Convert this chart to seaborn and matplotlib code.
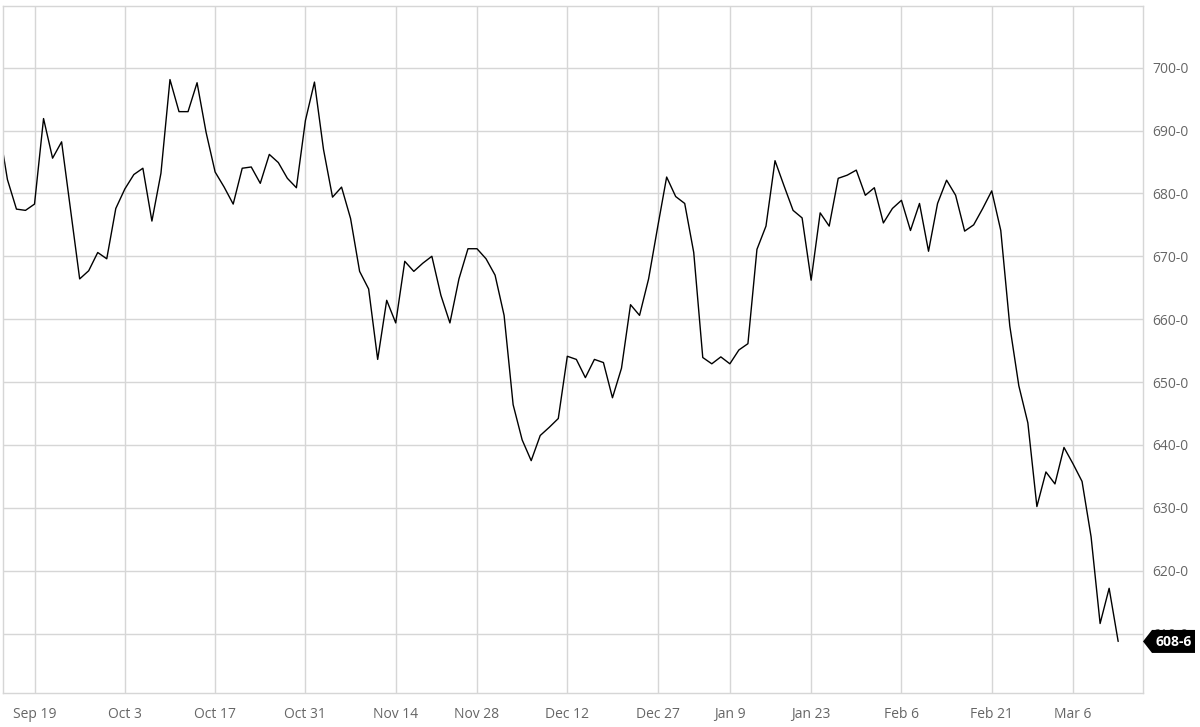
import pandas as pd
import matplotlib.pyplot as plt
import matplotlib.transforms as mtransforms
from matplotlib.patches import Polygon
import seaborn as sns

# trading days Sep 13 2022 .. Mar 13 2023 (CBOT holidays skipped)
start_date = "2022-09-13"
end_date = "2023-03-13"
holidays = ["2022-11-24", "2022-12-26", "2023-01-02", "2023-01-16", "2023-02-20"]

# settlement prices
prices = [
    691.0, 682.2, 677.5, 677.3, 678.3, 691.9, 685.6, 688.2, 677.3, 666.4,
    667.7, 670.6, 669.6, 677.6, 680.7, 683.0, 684.0, 675.6, 683.2, 698.1,
    693.0, 693.0, 697.6, 689.7, 683.4, 681.0, 678.3, 684.0, 684.2, 681.6,
    686.2, 684.9, 682.4, 680.9, 691.6, 697.7, 687.0, 679.4, 681.0, 676.0,
    667.6, 664.8, 653.6, 663.0, 659.4, 669.2, 667.6, 668.9, 670.0, 663.8,
    659.4, 666.4, 671.2, 671.2, 669.6, 667.0, 660.6, 646.4, 640.8, 637.5,
    641.5, 642.8, 644.2, 654.1, 653.6, 650.7, 653.6, 653.1, 647.5, 652.2,
    662.3, 660.6, 666.4, 674.6, 682.6, 679.5, 678.4, 670.6, 653.9, 652.9,
    654.0, 652.9, 655.1, 656.1, 671.1, 674.8, 685.2, 681.2, 677.3, 676.1,
    666.2, 676.9, 674.8, 682.4, 682.9, 683.7, 679.7, 680.9, 675.3, 677.6,
    678.9, 674.1, 678.4, 670.8, 678.4, 682.1, 679.7, 674.0, 675.0, 677.6,
    680.4, 674.1, 658.9, 649.4, 643.5, 630.2, 635.7, 633.8, 639.6, 637.0,
    634.2, 625.4, 611.6, 617.2, 608.75,
]

tick_dates = ["2022-09-19", "2022-10-03", "2022-10-17", "2022-10-31", "2022-11-14",
              "2022-11-28", "2022-12-12", "2022-12-27", "2023-01-09", "2023-01-23",
              "2023-02-06", "2023-02-21", "2023-03-06"]
tick_labels = ["Sep 19", "Oct 3", "Oct 17", "Oct 31", "Nov 14", "Nov 28", "Dec 12",
               "Dec 27", "Jan 9", "Jan 23", "Feb 6", "Feb 21", "Mar 6"]
y_ticks = [610, 620, 630, 640, 650, 660, 670, 680, 690, 700]
last_label = "608-6"

dates = pd.bdate_range(start_date, end_date, freq="C", holidays=holidays)
df = pd.DataFrame({"date": dates, "price": prices})
df["day"] = range(len(df))
x_ticks = [df.index[df["date"] == pd.Timestamp(d)][0] for d in tick_dates]

sns.set_theme(style="white")
plt.rcParams["font.family"] = ["Open Sans", "DejaVu Sans"]

grid_c = "#d6d6d6"
text_c = "#666666"

fig = plt.figure(figsize=(12, 7.27), dpi=100)
ax = fig.add_axes([3 / 1200, 34 / 727, 1140 / 1200, 687 / 727])

sns.lineplot(data=df, x="day", y="price", color="black", linewidth=1.0, ax=ax)

ax.set_xlim(0.51, 126.75)
ax.set_ylim(600.55, 709.8)
ax.set_xticks(x_ticks)
ax.set_xticklabels(tick_labels)
ax.set_yticks(y_ticks)
ax.set_yticklabels([f"{v}-0" for v in y_ticks])
ax.yaxis.tick_right()
ax.set_xlabel("")
ax.set_ylabel("")

ax.grid(True, color=grid_c, linewidth=1)
for s in ax.spines.values():
    s.set_color(grid_c)
    s.set_linewidth(1)
ax.tick_params(axis="x", length=5, width=1, color=grid_c, pad=5,
               labelsize=10, labelcolor=text_c)
ax.tick_params(axis="y", length=0, pad=7, labelsize=10, labelcolor=text_c)

# last price tag (covers the 610-0 label, as in the original)
trans = fig.dpi_scale_trans + mtransforms.ScaledTranslation(
    1, prices[-1], ax.get_yaxis_transform())
tag = Polygon([(0, 0), (0.09, 0.115), (0.52, 0.115), (0.52, -0.115), (0.09, -0.115)],
              closed=True, facecolor="black", edgecolor="none",
              transform=trans, clip_on=False, zorder=10)
ax.add_patch(tag)
ax.text(0.305, -0.005, last_label, transform=trans, ha="center", va="center",
        color="white", fontsize=10, fontweight="bold", zorder=11)

fig.savefig("out.png", dpi=100)
